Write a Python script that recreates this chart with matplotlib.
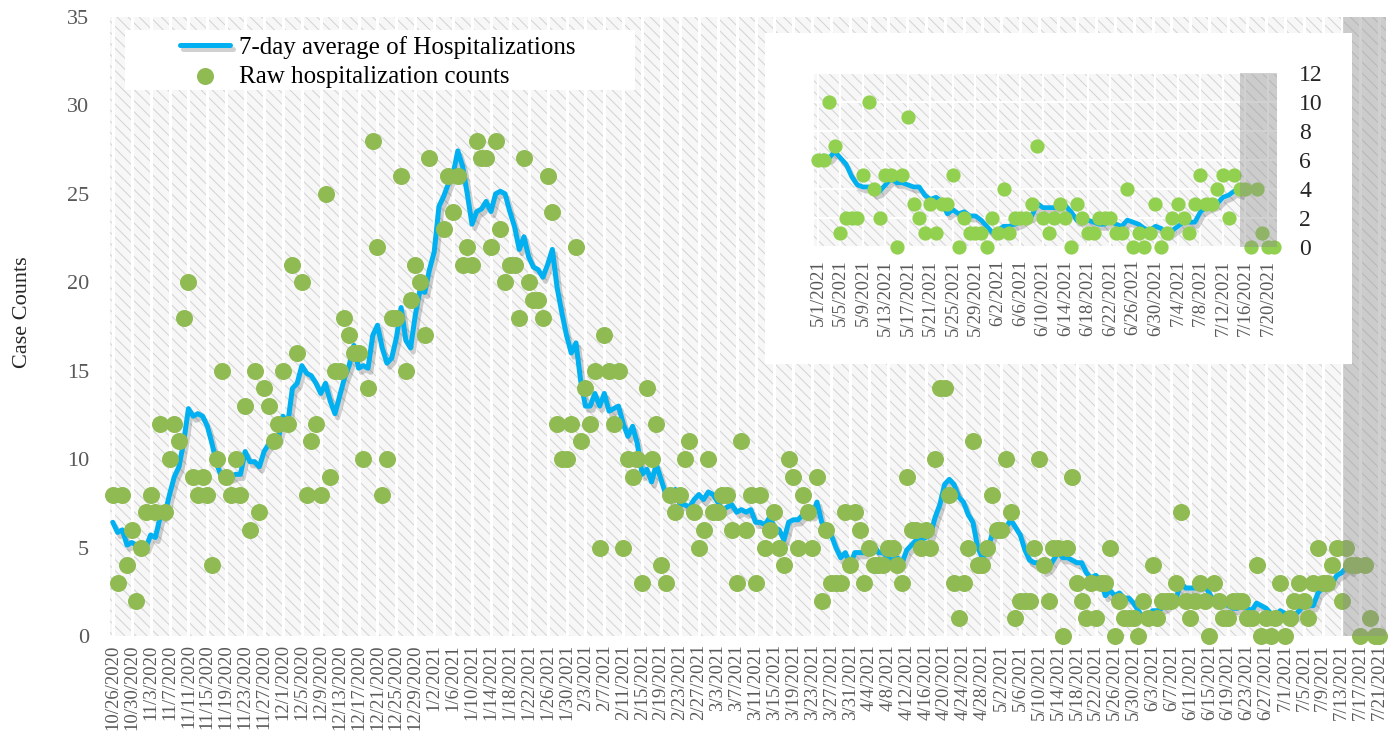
import numpy as np
import pandas as pd
import matplotlib
matplotlib.use('Agg')
import matplotlib.pyplot as plt
import matplotlib.patheffects as pe
from matplotlib.patches import Rectangle

plt.rcParams['font.family'] = ['Liberation Serif', 'DejaVu Serif']
plt.rcParams['hatch.linewidth'] = 0.7

# raw daily hospitalization counts
counts_oct = [8, 3, 8, 4, 6, 2]                       # 10/26 - 10/31/2020
counts_nov = [5, 7, 8, 7, 12, 7, 10, 12, 11, 18, 20, 9, 8, 9, 8, 4, 10, 15, 9, 8,
              10, 8, 13, 6, 15, 7, 14, 13, 11, 12]
counts_dec = [15, 12, 21, 16, 20, 8, 11, 12, 8, 25, 9, 15, 15, 18, 17, 16, 16, 10, 14, 28,
              22, 8, 10, 18, 18, 26, 15, 19, 21, 20, 17]
counts_jan = [27, 33, 33, 23, 26, 24, 26, 21, 22, 21, 28, 27, 27, 22, 28, 23, 20, 21, 21, 18,
              27, 20, 19, 19, 18, 26, 24, 12, 10, 10, 12]
counts_feb = [22, 11, 14, 12, 15, 5, 17, 15, 12, 15, 5, 10, 9, 10, 3, 14, 10, 12, 4, 3,
              8, 7, 8, 10, 11, 7, 5, 6]
counts_mar = [10, 7, 7, 8, 8, 6, 3, 11, 6, 8, 3, 8, 5, 6, 7, 5, 4, 10, 9, 5,
              8, 7, 5, 9, 2, 6, 3, 3, 3, 7, 4]
counts_apr = [7, 6, 3, 5, 4, 4, 4, 5, 5, 4, 3, 9, 6, 6, 5, 6, 5, 10, 14, 14,
              8, 3, 1, 3, 5, 11, 4, 4, 5, 8]
counts_may = [6, 6, 10, 7, 1, 2, 2, 2, 5, 10, 4, 2, 5, 5, 0, 5, 9, 3, 2, 1,
              3, 1, 3, 3, 5, 0, 2, 1, 1, 1, 0]
counts_jun = [2, 1, 4, 1, 2, 2, 2, 3, 7, 2, 1, 2, 3, 2, 0, 3, 2, 1, 1, 2,
              2, 2, 1, 1, 4, 0, 1, 0, 1, 3]
counts_jul = [0, 1, 2, 3, 2, 1, 3, 5, 3, 3, 4, 5, 2, 5, 4, 4, 0, 4, 1, 0, 0]
# the week before 10/26 (not shown, only feeds the first 7-day averages)
counts_before = [7, 7, 10, 5, 3, 5]

raw = (counts_oct + counts_nov + counts_dec + counts_jan + counts_feb +
       counts_mar + counts_apr + counts_may + counts_jun + counts_jul)
dates = pd.date_range('2020-10-26', periods=len(raw), freq='D')
raw = pd.Series(raw, index=dates, dtype=float)

avg = pd.Series(counts_before + list(raw.values)).rolling(7).mean().iloc[6:]
avg.index = dates
avg[avg.index > pd.Timestamp('2021-07-15')] = np.nan   # average stops at 7/15

inset_start = pd.Timestamp('2021-05-01')
main_shade = pd.Timestamp('2021-07-13')
inset_shade = pd.Timestamp('2021-07-15')

blue = '#00b0f0'
green = '#8fbb52'
green_in = '#92d050'
tick_grey = '#595959'
day = pd.Timedelta(days=1)

W, H = 1398, 738
fig = plt.figure(figsize=(W / 100, H / 100), dpi=100)


def hatch_bg(a):
    a.set_facecolor('white')
    a.add_patch(Rectangle((0, 0), 1, 1, transform=a.transAxes, facecolor='#f7f7f7',
                          edgecolor='#d2d2d2', hatch='\\\\\\', lw=0, zorder=0))
    for s in a.spines.values():
        s.set_visible(False)


shadow = [pe.SimpleLineShadow(offset=(2, -3), shadow_color='black', alpha=0.18),
          pe.Normal()]

# ---- main chart
ax = fig.add_axes([110 / W, 1 - 636 / H, (1386 - 110) / W, (636 - 17) / H])
hatch_bg(ax)
ax.plot(avg.index, avg.values, color=blue, lw=3.6, zorder=3, path_effects=shadow,
        label='7-day average of Hospitalizations', solid_capstyle='round')
ax.scatter(raw.index, raw.values, s=150, color=green, lw=0, zorder=4, clip_on=False,
           label='Raw hospitalization counts')
ax.axvspan(main_shade + 0.2 * day, dates[-1] + 2 * day, color='#8c8c8c', alpha=0.4,
           lw=0, zorder=5)

ax.set_xlim(dates[0] - 0.6 * day, dates[-1] + 1.4 * day)
ax.set_ylim(0, 35)
ax.set_yticks(range(0, 36, 5))
ax.set_xticks(dates[::4])
ax.set_xticklabels([f'{d.month}/{d.day}/{d.year}' for d in dates[::4]], rotation=90,
                   fontsize=13.5, color=tick_grey)
ax.tick_params(axis='x', length=0, pad=6)
ax.tick_params(axis='y', length=0, pad=15, labelsize=16, labelcolor=tick_grey)
ax.grid(axis='x', color='white', lw=2.2)
ax.set_ylabel('Case Counts', fontsize=16, color='#262626')
ax.yaxis.set_label_coords(-0.061, 0.523)

# legend on a white box
ax.add_patch(Rectangle((125 / W, 1 - 90 / H), 510 / W, 60 / H, transform=fig.transFigure,
                       facecolor='white', lw=0, zorder=6))
ax.legend(loc='upper left', bbox_to_anchor=(180 / W, 1 - 36 / H),
          bbox_transform=fig.transFigure, frameon=False, fontsize=18, borderpad=0,
          borderaxespad=0, labelspacing=0.25, handlelength=2.0, handletextpad=0.35,
          scatterpoints=1).set_zorder(7)

# ---- inset: white panel + zoomed chart
panel = fig.add_axes([765 / W, 1 - 364 / H, (1352 - 765) / W, (364 - 33) / H], zorder=5)
panel.set_facecolor('white')
panel.set_xticks([])
panel.set_yticks([])
for s in panel.spines.values():
    s.set_visible(False)

ins = fig.add_axes([814 / W, 1 - 247 / H, (1277 - 814) / W, (247 - 73) / H], zorder=6)
hatch_bg(ins)
r_in = raw[raw.index >= inset_start]
a_in = avg[avg.index >= inset_start]
ins.plot(a_in.index, a_in.values, color=blue, lw=3.4, zorder=3, path_effects=shadow)
ins.scatter(r_in.index, r_in.values, s=105, color=green_in, lw=0, zorder=4, clip_on=False)
ins.axvspan(inset_shade, r_in.index[-1] + 2 * day, color='#8c8c8c', alpha=0.4, lw=0,
            zorder=5)
ins.set_xlim(inset_start - 0.7 * day, inset_start + 81.6 * day)
ins.set_ylim(0, 12)
ins.set_yticks(range(0, 13, 2))
ins.yaxis.tick_right()
in_ticks = r_in.index[::4]
ins.set_xticks(in_ticks)
ins.set_xticklabels([f'{d.month}/{d.day}/{d.year}' for d in in_ticks], rotation=90,
                    fontsize=13.5, color=tick_grey)
ins.tick_params(axis='x', length=0, pad=9)
ins.tick_params(axis='y', length=0, pad=16, labelsize=17, labelcolor='#262626')
ins.grid(color='white', lw=1.6)

fig.savefig('out.png', dpi=100)
